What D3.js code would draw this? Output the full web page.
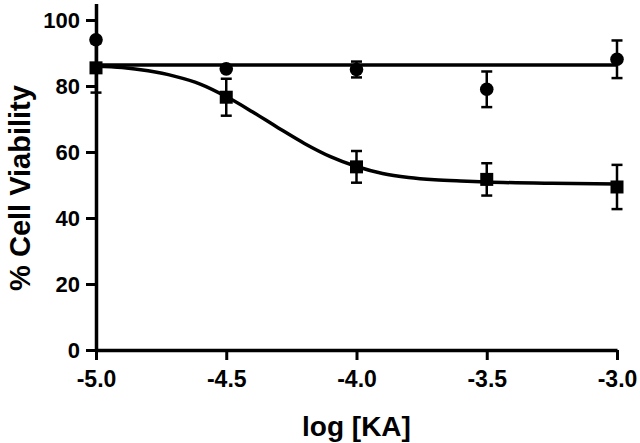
<!DOCTYPE html>
<html>
<head>
<meta charset="utf-8">
<script src="https://cdn.jsdelivr.net/npm/d3@7"></script>
<style>
  html, body { margin: 0; padding: 0; background: #fff; }
  svg text { font-family: "Liberation Sans", Arial, sans-serif; font-weight: bold; fill: #000; }
</style>
</head>
<body>
<svg id="chart" width="640" height="443"></svg>
<script>
// ---- Data ----
const logDose = [-5.0, -4.5, -4.0, -3.5, -3.0];
const controlMean = [94.0, 85.2, 85.0, 79.0, 88.1];
const controlErr  = [0,    0,    2.4,  5.4,  5.7];
const kaMean = [85.5, 76.6, 55.5, 51.7, 49.4];
const kaErr  = [7.5,  5.6,  4.8,  4.9,  6.7];
// fitted curves
const controlFitX = [-5.0, -3.0];
const controlFitY = [86.4, 86.4];
const kaFitX = [-5.0, -4.9, -4.8, -4.7, -4.6, -4.5, -4.4, -4.3, -4.2, -4.1, -4.0, -3.9, -3.8, -3.7, -3.6, -3.5, -3.25, -3.0];
const kaFitY = [86.0, 85.6, 84.6, 83.0, 80.6, 76.8, 72.2, 67.3, 62.6, 58.6, 55.6, 53.5, 52.3, 51.6, 51.2, 50.9, 50.5, 50.3];
const xTicks = [-5.0, -4.5, -4.0, -3.5, -3.0];
const yTicks = [0, 20, 40, 60, 80, 100];
const xTitle = "log [KA]";
const yTitle = "% Cell Viability";

// ---- Drawing ----
const svg = d3.select("#chart");
const x = d3.scaleLinear().domain([-5, -3]).range([96, 617]);
const y = d3.scaleLinear().domain([0, 105]).range([350, 3.5]);

const line = d3.line().x(d => x(d[0])).y(d => y(d[1]));

// fit lines
svg.append("path")
  .datum(controlFitX.map((v, i) => [v, controlFitY[i]]))
  .attr("d", line)
  .attr("fill", "none").attr("stroke", "#000").attr("stroke-width", 3.5);

svg.append("path")
  .datum(kaFitX.map((v, i) => [v, kaFitY[i]]))
  .attr("d", line.curve(d3.curveMonotoneX))
  .attr("fill", "none").attr("stroke", "#000").attr("stroke-width", 3.5);

// axes
const yAxis = d3.axisLeft(y).tickValues(yTicks).tickFormat(d3.format("d"))
  .tickSize(10).tickSizeOuter(0).tickPadding(6);
const xAxis = d3.axisBottom(x).tickValues(xTicks).tickFormat(d3.format(".1f"))
  .tickSize(10).tickSizeOuter(0).tickPadding(11);

const gy = svg.append("g").attr("transform", `translate(${x(-5)},0)`).call(yAxis);
const gx = svg.append("g").attr("transform", `translate(0,${y(0)})`).call(xAxis);
[gx, gy].forEach(g => {
  g.select(".domain").attr("stroke", "#000").attr("stroke-width", 3.5);
  g.selectAll(".tick line").attr("stroke", "#000").attr("stroke-width", 3);
  g.selectAll(".tick text")
    .style("font-family", "'Liberation Sans', Arial, sans-serif").style("font-weight", "bold").attr("fill", "#000");
});
gy.selectAll(".tick text").style("font-size", "22px");
gx.selectAll(".tick text").style("font-size", "23px")
  .text(d => d3.format(".1f")(d).replace("−", "-"));

// error bars
function errorBars(means, errs, cls) {
  const g = svg.append("g").attr("class", cls);
  logDose.forEach((d, i) => {
    if (!errs[i]) return;
    const cx = x(d), y1 = y(means[i] + errs[i]), y2 = y(means[i] - errs[i]);
    g.append("line").attr("x1", cx).attr("x2", cx).attr("y1", y1).attr("y2", y2)
      .attr("stroke", "#000").attr("stroke-width", 2.5);
    [y1, y2].forEach(yy => g.append("line").attr("x1", cx - 5.5).attr("x2", cx + 5.5)
      .attr("y1", yy).attr("y2", yy).attr("stroke", "#000").attr("stroke-width", 2.5));
  });
}
errorBars(controlMean, controlErr, "err-control");
errorBars(kaMean, kaErr, "err-ka");

// markers
svg.append("g").selectAll("circle").data(logDose).join("circle")
  .attr("cx", d => x(d)).attr("cy", (d, i) => y(controlMean[i])).attr("r", 6.8).attr("fill", "#000");
svg.append("g").selectAll("rect").data(logDose).join("rect")
  .attr("x", d => x(d) - 6.5).attr("y", (d, i) => y(kaMean[i]) - 6.5)
  .attr("width", 13).attr("height", 13).attr("fill", "#000");

// titles
svg.append("text").attr("x", (x(-5) + x(-3)) / 2).attr("y", 436)
  .attr("text-anchor", "middle").style("font-size", "28px").text(xTitle);
svg.append("text").attr("transform", `translate(30,188) rotate(-90)`)
  .attr("text-anchor", "middle").style("font-size", "29px").text(yTitle);
</script>
</body>
</html>
